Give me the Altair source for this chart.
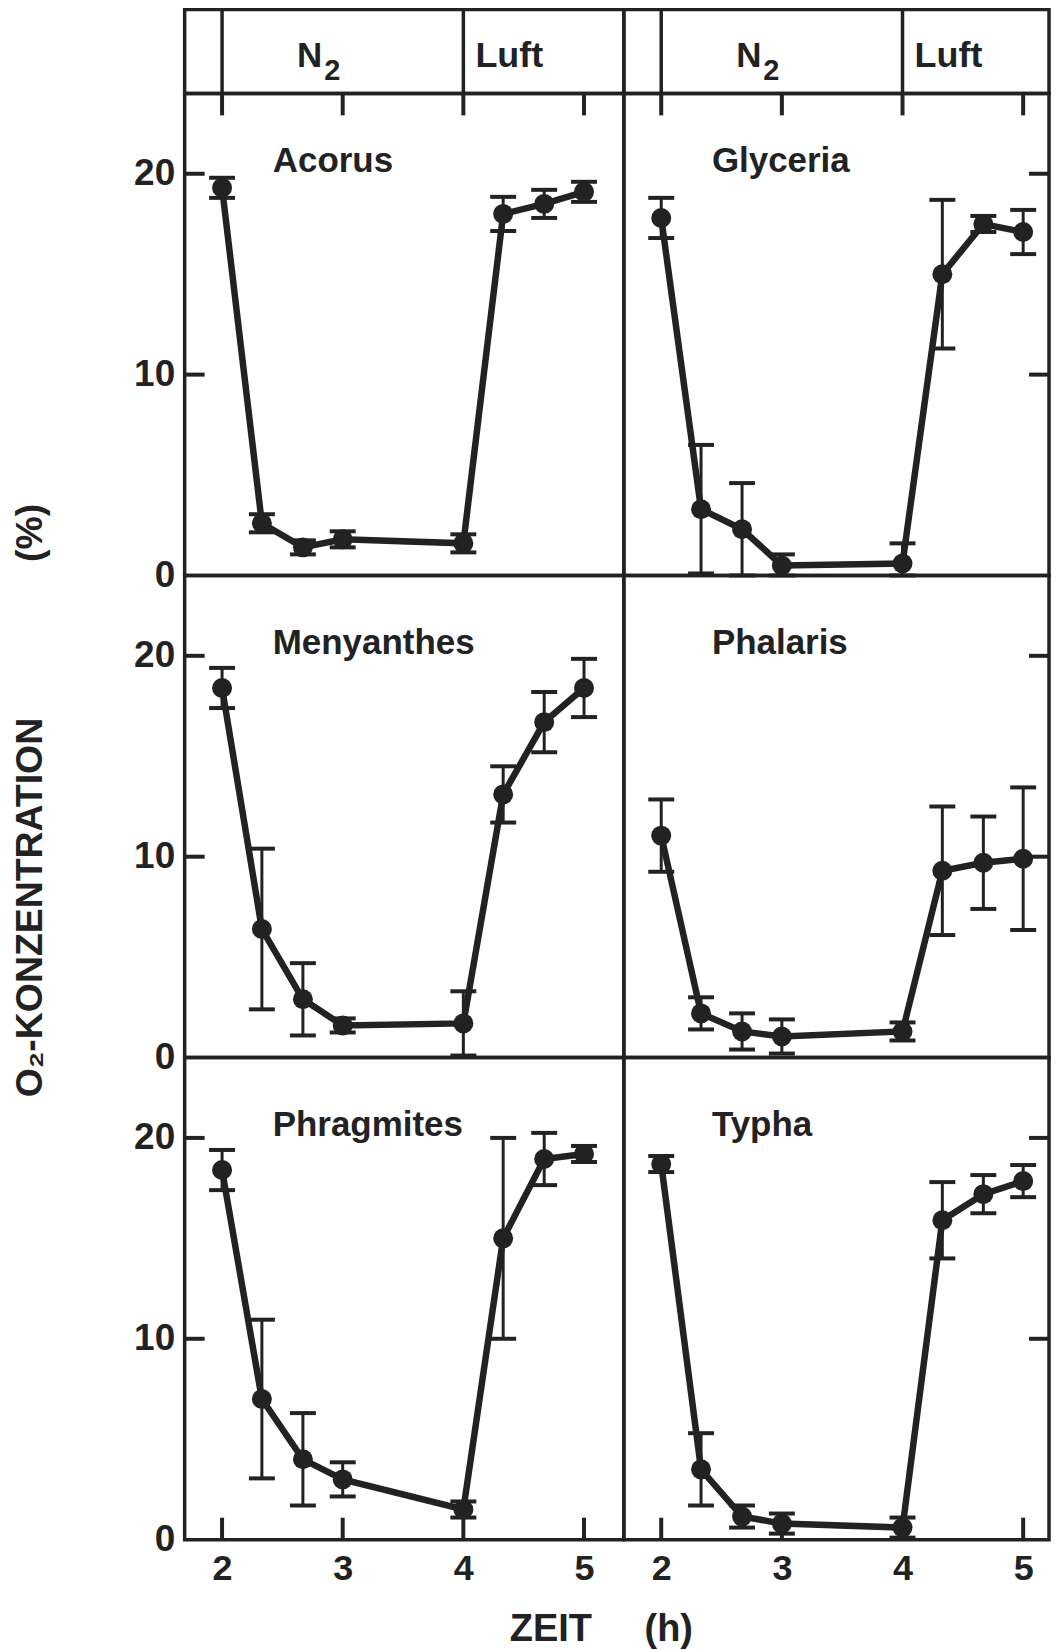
import altair as alt
import pandas as pd

# ---------------- data ----------------
times = [2, 2.33, 2.67, 3, 4, 4.33, 4.67, 5]

species = ["Acorus", "Glyceria", "Menyanthes", "Phalaris", "Phragmites", "Typha"]

acorus_mean = [19.3, 2.6, 1.4, 1.8, 1.6, 18.0, 18.5, 19.1]
acorus_err = [0.5, 0.45, 0.35, 0.4, 0.45, 0.85, 0.7, 0.5]

glyceria_mean = [17.8, 3.3, 2.3, 0.5, 0.6, 15.0, 17.5, 17.1]
glyceria_err = [1.0, 3.2, 2.3, 0.55, 1.0, 3.7, 0.4, 1.1]

menyanthes_mean = [18.4, 6.4, 2.9, 1.6, 1.7, 13.1, 16.7, 18.4]
menyanthes_err = [1.0, 4.0, 1.8, 0.35, 1.6, 1.4, 1.5, 1.45]

phalaris_mean = [11.05, 2.2, 1.3, 1.05, 1.3, 9.3, 9.7, 9.9]
phalaris_err = [1.8, 0.8, 0.9, 0.85, 0.45, 3.2, 2.3, 3.55]

phragmites_mean = [18.4, 7.0, 4.0, 3.0, 1.5, 15.0, 18.95, 19.2]
phragmites_err = [1.0, 3.95, 2.3, 0.85, 0.4, 5.0, 1.3, 0.4]

typha_mean = [18.7, 3.5, 1.15, 0.8, 0.6, 15.9, 17.2, 17.85]
typha_err = [0.4, 1.8, 0.55, 0.5, 0.5, 1.9, 0.95, 0.8]

phase_bounds = [2, 4]          # start of N2 flushing, start of air
phase_main = ["N", "Luft"]
phase_sub = ["2", ""]

x_tick_values = [2, 3, 4, 5]
y_tick_values = [0, 10, 20]
y_inner_ticks = [10, 20]

# ---------------- style ----------------
FONT = "Liberation Sans, Arial, Helvetica, sans-serif"
INK = "#222222"
W_LEFT, W_RIGHT, H, HH = 440, 426, 483, 84
X0 = 1.69
PX_PER_H = 440 / 3.64
WIDTHS = [W_LEFT, W_RIGHT]
XDOMS = [[X0, X0 + W_LEFT / PX_PER_H], [X0, X0 + W_RIGHT / PX_PER_H]]
YDOM = [0, 24]
TICK_LEN = 21

yscale = alt.Scale(domain=YDOM, nice=False, zero=False)

Y_TITLE = "O\u2082-KONZENTRATION" + "\u00a0" * 15 + "(%)"
X_TITLE = "ZEIT" + "\u00a0" * 5 + "(h)"


def xscale(col):
    return alt.Scale(domain=XDOMS[col], nice=False, zero=False)


def y_axis(col, row):
    if col != 0:
        return None
    kw = dict(values=y_tick_values, ticks=False, domain=False, grid=False,
              labelFont=FONT, labelFontSize=37, labelFontWeight="bold",
              labelColor=INK, labelPadding=10, labelFlush=False,
              labelOverlap=False, title=None)
    if row == 1:
        kw.update(title=Y_TITLE, titleAngle=270, titleX=-143, titleY=225,
                  titleAlign="center", titleBaseline="alphabetic",
                  titleFont=FONT, titleFontSize=37.5, titleFontWeight="bold",
                  titleColor=INK)
    return alt.Axis(**kw)


def x_axis(col, row):
    if row != 2:
        return None
    kw = dict(values=x_tick_values, ticks=False, domain=False, grid=False,
              labelFont=FONT, labelFontSize=36, labelFontWeight="bold",
              labelColor=INK, labelPadding=12, labelFlush=False,
              labelOverlap=False, format="d", title=None)
    if col == 0:
        kw.update(title=X_TITLE, titleX=417, titleY=101, titleAlign="center",
                  titleBaseline="alphabetic", titleFont=FONT, titleFontSize=38,
                  titleFontWeight="bold", titleColor=INK)
    return alt.Axis(**kw)


def panel(name, mean, err, col, row):
    xa = x_axis(col, row)
    ya = y_axis(col, row)
    xs = xscale(col)
    W = WIDTHS[col]

    def X(f):
        return alt.X(f"{f}:Q", scale=xs, axis=xa)

    def Y(f):
        return alt.Y(f"{f}:Q", scale=yscale, axis=ya)

    df = pd.DataFrame({"t": times, "v": mean, "e": err})
    base = alt.Chart(df).transform_calculate(
        lo="max(0, datum.v - datum.e)", hi="datum.v + datum.e"
    )
    bars = base.mark_rule(color=INK, strokeWidth=3).encode(
        x=X("t"), y=Y("lo"), y2="hi:Q")
    cap_lo = base.mark_rule(color=INK, strokeWidth=4, xOffset=-13,
                            x2Offset=13).encode(x=X("t"), x2="t:Q", y=Y("lo"))
    cap_hi = base.mark_rule(color=INK, strokeWidth=4, xOffset=-13,
                            x2Offset=13).encode(x=X("t"), x2="t:Q", y=Y("hi"))
    line = base.mark_line(color=INK, strokeWidth=6.5).encode(x=X("t"), y=Y("v"))
    pts = base.mark_circle(color=INK, size=400, opacity=1).encode(
        x=X("t"), y=Y("v"))

    lab = alt.Chart(pd.DataFrame({"t": [2.42], "v": [20.1], "s": [name]})).mark_text(
        align="left", baseline="alphabetic", font=FONT, fontSize=35,
        fontWeight="bold", color=INK).encode(x=X("t"), y=Y("v"), text="s:N")

    layers = [bars, cap_lo, cap_hi, line, pts, lab]

    yt = alt.Chart(pd.DataFrame({"v": y_inner_ticks}))
    if col == 0:
        layers.append(yt.mark_rule(color=INK, strokeWidth=4).encode(
            y=Y("v"), x=alt.value(0), x2=alt.value(TICK_LEN - 1)))
    else:
        layers.append(yt.mark_rule(color=INK, strokeWidth=4).encode(
            y=Y("v"), x=alt.value(W - TICK_LEN + 1), x2=alt.value(W)))

    xt = alt.Chart(pd.DataFrame({"t": x_tick_values}))
    if row == 0:
        layers.append(xt.mark_rule(color=INK, strokeWidth=4).encode(
            x=X("t"), y=alt.value(0), y2=alt.value(TICK_LEN + 1)))
    if row == 2:
        layers.append(xt.mark_rule(color=INK, strokeWidth=4).encode(
            x=X("t"), y=alt.value(H - TICK_LEN - 1), y2=alt.value(H)))

    return alt.layer(*layers).properties(width=W, height=H)


def header(col):
    X = alt.X("t:Q", scale=xscale(col), axis=None)
    rules = alt.Chart(pd.DataFrame({"t": phase_bounds})).mark_rule(
        color=INK, strokeWidth=3.5).encode(x=X)
    n_txt = alt.Chart(pd.DataFrame({"t": [2.83], "s": [phase_main[0]]})).mark_text(
        align="right", baseline="alphabetic", font=FONT, fontSize=35,
        fontWeight="bold", color=INK).encode(x=X, y=alt.value(58), text="s:N")
    sub_txt = alt.Chart(pd.DataFrame({"t": [2.83], "s": [phase_sub[0]]})).mark_text(
        align="left", baseline="alphabetic", font=FONT, fontSize=29, dx=2,
        fontWeight="bold", color=INK).encode(x=X, y=alt.value(71), text="s:N")
    luft_txt = alt.Chart(pd.DataFrame({"t": [4.1], "s": [phase_main[1]]})).mark_text(
        align="left", baseline="alphabetic", font=FONT, fontSize=36,
        fontWeight="bold", color=INK).encode(x=X, y=alt.value(58), text="s:N")
    return alt.layer(rules, n_txt, sub_txt, luft_txt).properties(
        width=WIDTHS[col], height=HH)


means = [acorus_mean, glyceria_mean, menyanthes_mean, phalaris_mean,
         phragmites_mean, typha_mean]
errs = [acorus_err, glyceria_err, menyanthes_err, phalaris_err,
        phragmites_err, typha_err]

cells = [header(0), header(1)]
for i, name in enumerate(species):
    cells.append(panel(name, means[i], errs[i], i % 2, i // 2))

chart = alt.concat(*cells, columns=2, spacing=0, bounds="flush",
                   align="each").properties(
    padding={"left": 2, "right": 0, "top": -4, "bottom": 0},
    background="white",
).configure(font=FONT).configure_view(stroke=INK, strokeWidth=3.5)

chart.save("out.html", embed_options={"renderer": "svg", "actions": False})
